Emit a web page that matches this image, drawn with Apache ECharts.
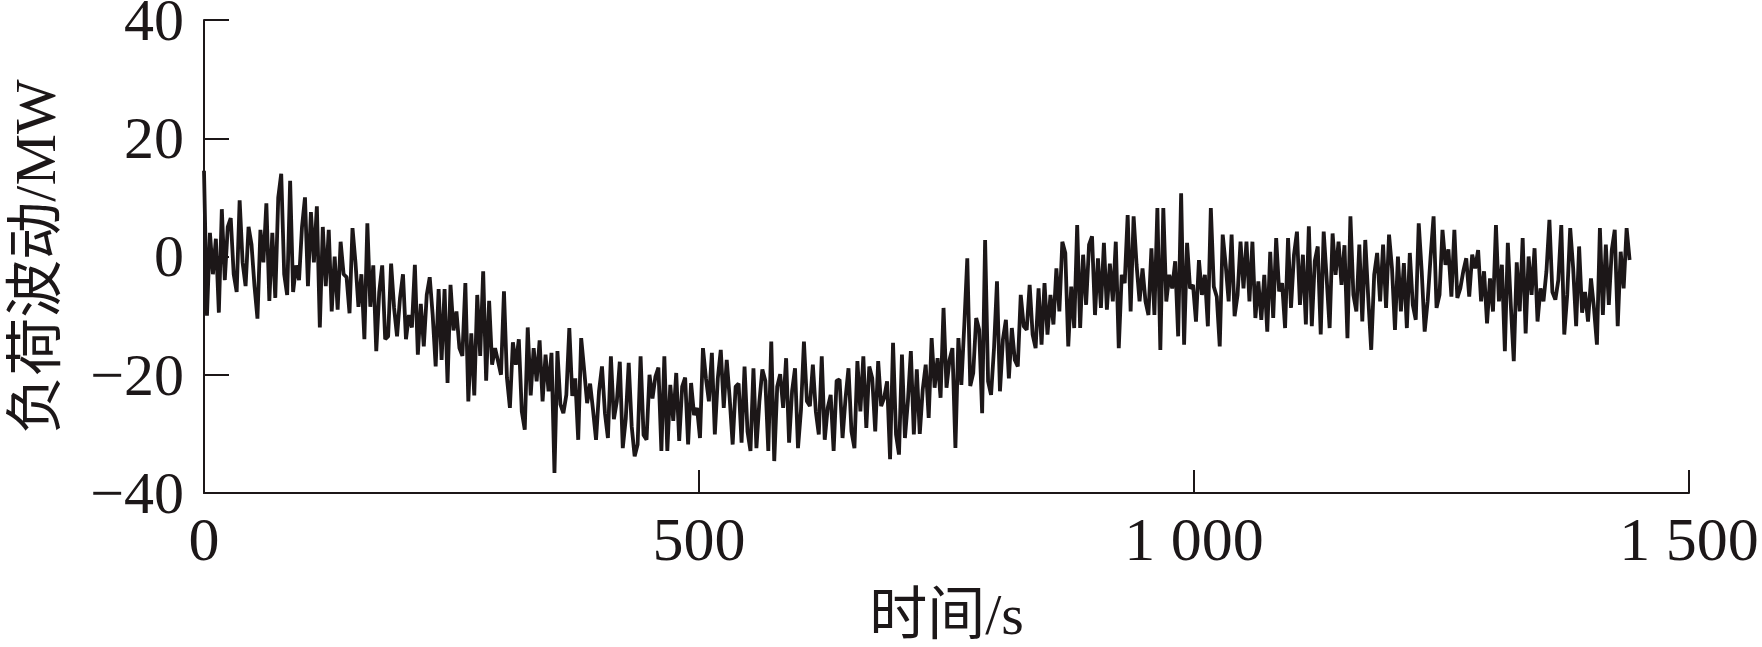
<!DOCTYPE html>
<html>
<head>
<meta charset="utf-8">
<script src="https://cdn.jsdelivr.net/npm/echarts@6/dist/echarts.min.js"></script>
<style>
html,body{margin:0;padding:0;background:#ffffff;}
#chart{width:1762px;height:647px;}
</style>
</head>
<body>
<div id="chart"></div>
<script>
// Load fluctuation (MW), one sample every 3 s, in 120 s blocks
const SAMPLE_STEP = 3;
const block0 = [14.5, -10, 4, -3, 3, -9.5, 8, -4, 5, 6.5, -3, -6, 9.5, -1, -5, 5, 2, -5, -10.5, 4.5, -1, 9, -7.5, 4, -7, 10, 14, -3, -6.5, 12.8, -6, -1.5, -4, 5, 10, -5, 7.5, -1, 8.5, -12];
const block1 = [5, -5, 4.5, -9.3, 0, -9, 2.5, -3, -3.5, -9.6, 4.8, -1, -8.5, -3, -14, 5.6, -8.5, -1.5, -16, -6, -1.5, -14, -13.5, -1.2, -8.7, -13.5, -7, -3, -14, -9.9, -12, -1.4, -16.6, -8, -15.2, -6.5, -3.5, -9.9, -18.6, -5.5];
const block2 = [-17.5, -5.5, -21.4, -4.8, -12.5, -9.3, -15.5, -16.8, -4.5, -24.5, -13, -23.5, -6.5, -16.8, -2.5, -21, -7.5, -18.3, -15.5, -17.7, -20, -5.9, -20.5, -25.6, -14.5, -18.3, -14, -26.2, -29.3, -12, -23.5, -15.5, -21.1, -14.2, -24.5, -16.6, -22.8, -16.3, -36.6, -16, -25];
const block3 = [-26.5, -23.4, -12.1, -23.6, -20.6, -31, -13.8, -19.2, -24.8, -21.5, -26, -31, -22.8, -18.6, -26.5, -30.7, -16.9, -27.5, -24.5, -17.8, -32.4, -27.5, -18, -28.7, -33.8, -31.8, -16.9, -30.2, -31, -20, -24, -20.3, -18.8, -32.9, -16.9, -32.9, -21.7, -27.8, -19.7, -31.2];
const block4 = [-22, -20.5, -31.8, -21.4, -26.8, -25.6, -30.7, -15.5, -20.6, -24.5, -16.3, -30.1, -20.6, -15.8, -25.6, -17.5, -24, -31.8, -22, -21.5, -31.5, -18.6, -29.6, -32.9, -18.9, -32.4, -24.5, -19.1, -21, -32.9, -14.4, -34.6, -22, -19.9, -25.6, -17.2, -31.5, -22.8, -18.9, -32.4];
const block5 = [-26, -14.4, -24.5, -25.3, -18.3, -26.2, -30.1, -16.9, -31, -25.6, -23.4, -32.9, -21, -20.8, -30.7, -24, -18.9, -29.6, -32.4, -17.7, -26.2, -16.9, -29, -18.6, -20.6, -29.6, -17.7, -25.3, -23.9, -21.1, -34.3, -14.6, -30.1, -33.5, -16.6, -30.7, -24.5, -16, -30.1, -19.1];
const block6 = [-30, -22.5, -18.3, -27.3, -13.8, -22.2, -17.2, -23.9, -8.7, -22.2, -17.5, -15.5, -32.4, -13.8, -21.7, -11.5, -0.3, -21.9, -19.7, -10.4, -12.4, -26.5, 2.8, -21.1, -23.4, -15.5, -4.2, -22.8, -14, -10.7, -20.6, -12.1, -17.5, -18.6, -6.5, -11.8, -12.4, -4.8, -13.2, -15.5, -5.4];
const block7 = [-14.9, -4.5, -13.2, -6.5, -11.5, -2, -9.3, 2.5, 0.6, -15.2, -5.1, -12.1, 5.3, -12.1, 0.3, -8.2, 2, 3.4, -9.9, -0.3, -8.7, 2.3, -9, -1.2, -7.6, 2.5, -15.5, -3.1, -4.5, 7, -9.3, 6.8, -1.4, -7.6, -2, -7.6, -9.9, 1.4, -9.9, 8.2, -15.8];
const block8 = [8.2, -7.6, -3.1, -5.4, -0.8, -13.5, 10.7, -14.9, 2.3, -5.4, -4.8, -11, -0.6, -6.5, -3.1, -11.8, 8.2, -5.1, -6.8, -15.2, 3.7, -1.4, -7.6, 3.7, -10.1, -6.5, 2.5, -5.4, 2.5, -7.6, 2.5, -10.4, -4.2, -10.7, -3.1, -12.7, 0.8, -10.4, 3.1, -5.9];
const block9 = [-4.5, -12.1, 3.1, -8.7, 0.3, 4.2, -8.2, 0.3, -11.5, 5.1, -11.8, -0.8, 1.7, -13.2, 4.2, -3.7, -12.1, 3.9, -3.1, 2.5, -4.8, 1.9, -13.8, 6.8, -6.5, -9.3, 2, -11, 2.8, -7, -15.8, -3.1, 0.6, -7.6, 2, -8.7, 3.7, -2, -12.4, 0];
const block10 = [-9.3, -1.1, -12.1, 0.6, -8.2, -10.7, 5.6, -2.5, -12.7, -7.6, 0, 6.8, -8.7, -6.5, 4.5, -1.4, 1.2, -6.8, 4.5, -7, -5.4, -2.5, -0.3, -6.8, 0.3, -2, 1.1, -7.6, -2.5, -11.3, -3.7, -9.3, 5.3, -7.6, -1.4, -16, 2.3, -8.2, -17.7, -1];
const block11 = [-9.3, 3.1, -13, 0, -6.5, 1.4, -11, -5.4, -7.6, -2.5, 6.2, -6, -7.3, -4, 5.3, -13.2, -6.5, 4.8, -2, -11.8, 1.7, -9.5, -6, -11, -3.7, -8.7, -14.9, 4.8, -9.9, 2, -8.2, 1.1, 4.5, -11.8, 0.8, -5.4, 4.8, -0.6];

const xTicks = [0, 500, 1000, 1500];
const yTicks = [-40, -20, 0, 20, 40];
const xTitle = '时间/s';
const yTitle = '负荷波动/MW';

const loadValues = [].concat(block0, block1, block2, block3, block4, block5, block6,
  block7, block8, block9, block10, block11);
const seriesData = loadValues.map((v, i) => [i * SAMPLE_STEP, v]);

const INK = '#1c1718';
const FONT = '"Liberation Serif", "Times New Roman", "Noto Sans CJK SC", serif';

const chart = echarts.init(document.getElementById('chart'), null, {renderer: 'canvas'});
chart.setOption({
  animation: false,
  backgroundColor: '#ffffff',
  grid: {left: 204, right: 73, top: 20, bottom: 154, containLabel: false, outerBoundsMode: 'none'},
  xAxis: {
    type: 'value',
    min: xTicks[0], max: xTicks[xTicks.length - 1], interval: xTicks[1] - xTicks[0],
    name: xTitle, nameLocation: 'middle', nameGap: 97,
    nameTextStyle: {fontFamily: FONT, fontSize: 58, color: INK},
    axisLine: {show: true, onZero: false, lineStyle: {color: INK, width: 2}},
    axisTick: {show: true, inside: true, length: 23, lineStyle: {color: INK, width: 2}},
    axisLabel: {
      margin: 20, fontFamily: FONT, fontSize: 62, color: INK,
      formatter: v => v >= 1000 ? String(v).replace(/(\d)(\d{3})$/, '$1 $2') : String(v)
    },
    splitLine: {show: false}
  },
  yAxis: {
    type: 'value',
    min: yTicks[0], max: yTicks[yTicks.length - 1], interval: yTicks[1] - yTicks[0],
    name: yTitle, nameLocation: 'middle', nameGap: 135, nameRotate: 90,
    nameTextStyle: {fontFamily: FONT, fontSize: 58, color: INK},
    axisLine: {show: true, onZero: false, lineStyle: {color: INK, width: 2}},
    axisTick: {show: true, inside: true, length: 25, lineStyle: {color: INK, width: 2}},
    axisLabel: {
      margin: 20, fontFamily: FONT, fontSize: 60, color: INK,
      verticalAlign: 'top', lineHeight: 8,
      formatter: v => v < 0 ? '\u2212' + Math.abs(v) : String(v)
    },
    splitLine: {show: false}
  },
  series: [{
    type: 'line',
    data: seriesData,
    showSymbol: false,
    symbol: 'none',
    lineStyle: {color: INK, width: 3.8},
    z: 1
  }]
});
</script>
</body>
</html>
